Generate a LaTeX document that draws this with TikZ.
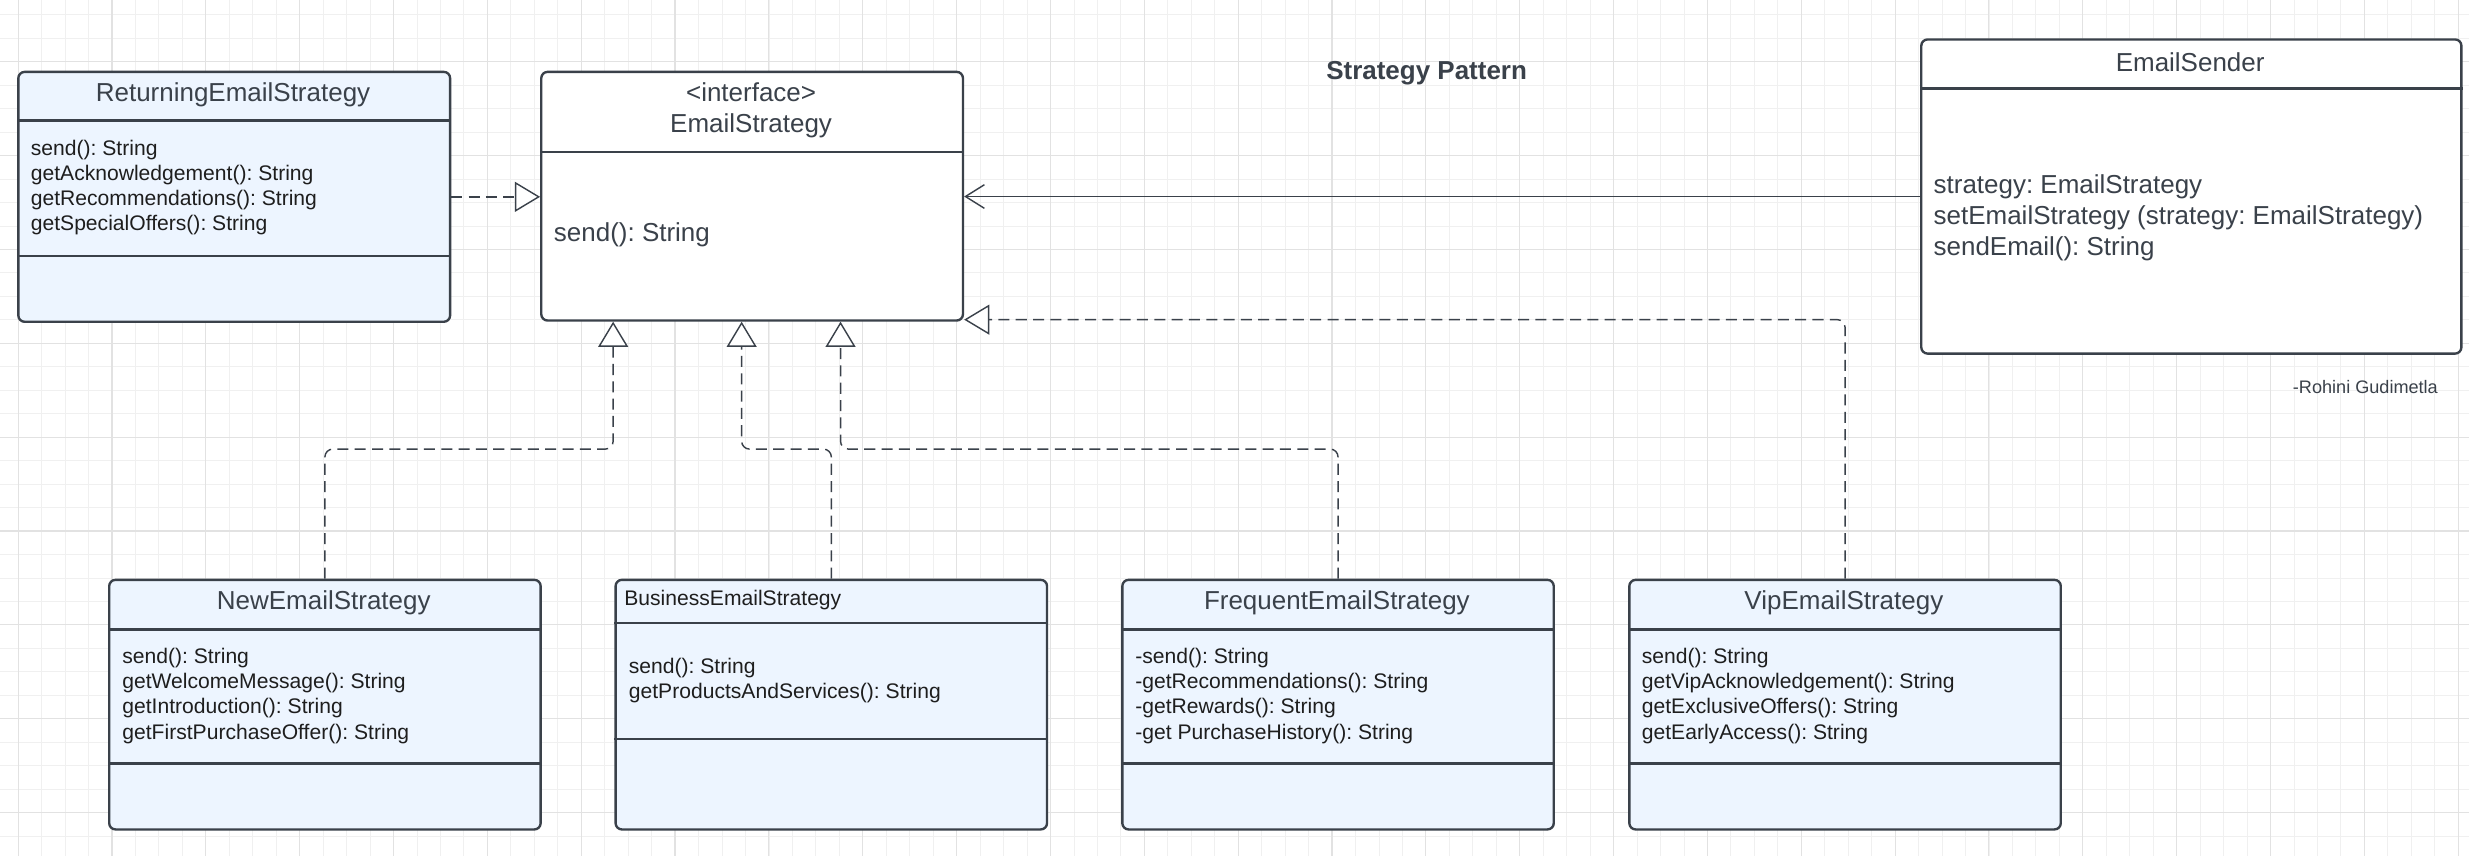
\documentclass[tikz,border=0pt]{standalone}
\usepackage{fontspec}
\setmainfont{Liberation Sans}
\usetikzlibrary{arrows.meta}
\frenchspacing
\definecolor{bordc}{HTML}{3A414A}
\definecolor{boxfill}{HTML}{EDF5FF}
\definecolor{ttlc}{HTML}{3A414A}
\definecolor{methc}{HTML}{1E1E1E}
\definecolor{connc}{HTML}{3A414A}
\definecolor{gridmaj}{HTML}{E2E2E2}
\definecolor{gridmin}{HTML}{F0F0F0}
\newcommand\ftitle{\fontsize{16.5pt}{19.7pt}\selectfont}
\newcommand\fmeth{\fontsize{13.4pt}{16pt}\selectfont}
\newcommand\fsmall{\fontsize{11.5pt}{14pt}\selectfont}
\tikzset{
  clsbox/.style={draw=bordc, line width=1.5pt, rounded corners=4pt, inner sep=0pt, anchor=north west},
  divl/.style={draw=bordc, line width=1.5pt},
  ttl/.style={font=\ftitle, text=ttlc, inner sep=0pt},
  meth/.style={font=\fmeth, text=methc, align=left, anchor=west, inner sep=0pt},
  attr/.style={font=\ftitle, text=ttlc, align=left, anchor=west, inner sep=0pt},
  realz/.style={draw=connc, line width=0.9pt, dash pattern=on 7pt off 4pt, rounded corners=5pt,
    -{Triangle[open,length=16pt,width=19pt,fill=white]}},
  assoc/.style={draw=connc, line width=0.9pt, -{Straight Barb[length=12pt,width=15pt]}},
  gridminor/.style={draw=gridmin, line width=0.5pt},
  gridmajor/.style={draw=gridmaj, line width=0.7pt},
}
\begin{document}
\begin{tikzpicture}[x=1pt,y=-1pt]
\fill[white] (0,0) rectangle (1568,543.6);
\useasboundingbox (0,0) rectangle (1568,543.6);
% grid
\foreach \gx in {11.5,26.4,...,1568} { \draw[gridminor] (\gx,0) -- (\gx,543.6); }
\foreach \gy in {9.4,24.3,...,543.6} { \draw[gridminor] (0,\gy) -- (1568,\gy); }
\foreach \gx in {11.5,71.1,...,1568} { \draw[gridmajor] (\gx,0) -- (\gx,543.6); }
\foreach \gy in {39.2,98.8,...,543.6} { \draw[gridmajor] (0,\gy) -- (1568,\gy); }

% ReturningEmailStrategy
\node[clsbox, fill=boxfill, minimum width=274.2pt, minimum height=158.7pt] (R) at (10.9,44.9) {};
\draw[divl] (R.west |- 0,76.6) -- (R.east |- 0,76.6);
\draw[divl] (R.west |- 0,162.4) -- (R.east |- 0,162.4);
\node[ttl] (Rt) at (148,60) {ReturningEmailStrategy};
\node[meth] (Rm) at (19.4,119.2) {send(): String\\getAcknowledgement(): String\\getRecommendations(): String\\getSpecialOffers(): String};

% EmailStrategy interface
\node[clsbox, fill=white, minimum width=267.8pt, minimum height=157.9pt] (I) at (343,44.9) {};
\draw[divl] (I.west |- 0,96.5) -- (I.east |- 0,96.5);
\node[ttl, align=center] (It) at (477,70) {<interface>\\EmailStrategy};
\node[attr] (Im) at (351.6,149.4) {send(): String};

% EmailSender
\node[clsbox, fill=white, minimum width=343pt, minimum height=199.5pt] (S) at (1219.4,24.3) {};
\draw[divl] (S.west |- 0,56.1) -- (S.east |- 0,56.1);
\node[ttl] (St) at (1390.9,39.2) {EmailSender};
\node[attr] (Sm) at (1227.8,138.5) {strategy: EmailStrategy\\setEmailStrategy (strategy: EmailStrategy)\\sendEmail(): String};

% title and author
\node[font=\ftitle\bfseries, text=ttlc, inner sep=0pt] (title) at (906,46.2) {Strategy Pattern};
\node[font=\fsmall, text=ttlc, inner sep=0pt, anchor=east] (author) at (1548.4,245.5) {-Rohini Gudimetla};

% NewEmailStrategy
\node[clsbox, fill=boxfill, minimum width=274pt, minimum height=158.5pt] (N) at (68.6,367.5) {};
\draw[divl] (N.west |- 0,399.7) -- (N.east |- 0,399.7);
\draw[divl] (N.west |- 0,484.8) -- (N.east |- 0,484.8);
\node[ttl] (Nt) at (205.6,382.8) {NewEmailStrategy};
\node[meth] (Nm) at (77.5,441.9) {send(): String\\getWelcomeMessage(): String\\getIntroduction(): String\\getFirstPurchaseOffer(): String};

% BusinessEmailStrategy
\node[clsbox, fill=boxfill, minimum width=274pt, minimum height=158.5pt] (B) at (390.2,367.5) {};
\draw[divl] (B.west |- 0,395.5) -- (B.east |- 0,395.5);
\draw[divl] (B.west |- 0,469.3) -- (B.east |- 0,469.3);
\node[meth] (Bt) at (396.3,381.3) {BusinessEmailStrategy};
\node[meth] (Bm) at (399.2,432.2) {send(): String\\getProductsAndServices(): String};

% FrequentEmailStrategy
\node[clsbox, fill=boxfill, minimum width=274pt, minimum height=158.5pt] (F) at (712,367.5) {};
\draw[divl] (F.west |- 0,399.7) -- (F.east |- 0,399.7);
\draw[divl] (F.west |- 0,484.8) -- (F.east |- 0,484.8);
\node[ttl] (Ft) at (849,382.8) {FrequentEmailStrategy};
\node[meth] (Fm) at (720.8,441.9) {-send(): String\\-getRecommendations(): String\\-getRewards(): String\\-get PurchaseHistory(): String};

% VipEmailStrategy
\node[clsbox, fill=boxfill, minimum width=274pt, minimum height=158.5pt] (V) at (1034,367.5) {};
\draw[divl] (V.west |- 0,399.7) -- (V.east |- 0,399.7);
\draw[divl] (V.west |- 0,484.8) -- (V.east |- 0,484.8);
\node[ttl] (Vt) at (1171,382.8) {VipEmailStrategy};
\node[meth] (Vm) at (1042.5,441.9) {send(): String\\getVipAcknowledgement(): String\\getExclusiveOffers(): String\\getEarlyAccess(): String};

% connectors
\coordinate (j1) at (389.4,285.2);
\coordinate (j2) at (471,285.2);
\coordinate (j3) at (533.8,285.2);
\draw[realz] (R.east) -- (R.east -| I.west);
\draw[assoc] (S.west) -- (S.west -| I.east);
\draw[realz] (V.north) |- ([yshift=1.3pt]I.south east);
\draw[realz] (N.north) |- (j1) -- (j1 |- I.south);
\draw[realz] (B.north) |- (j2) -- (j2 |- I.south);
\draw[realz] (F.north) |- (j3) -- (j3 |- I.south);
\end{tikzpicture}
\end{document}
